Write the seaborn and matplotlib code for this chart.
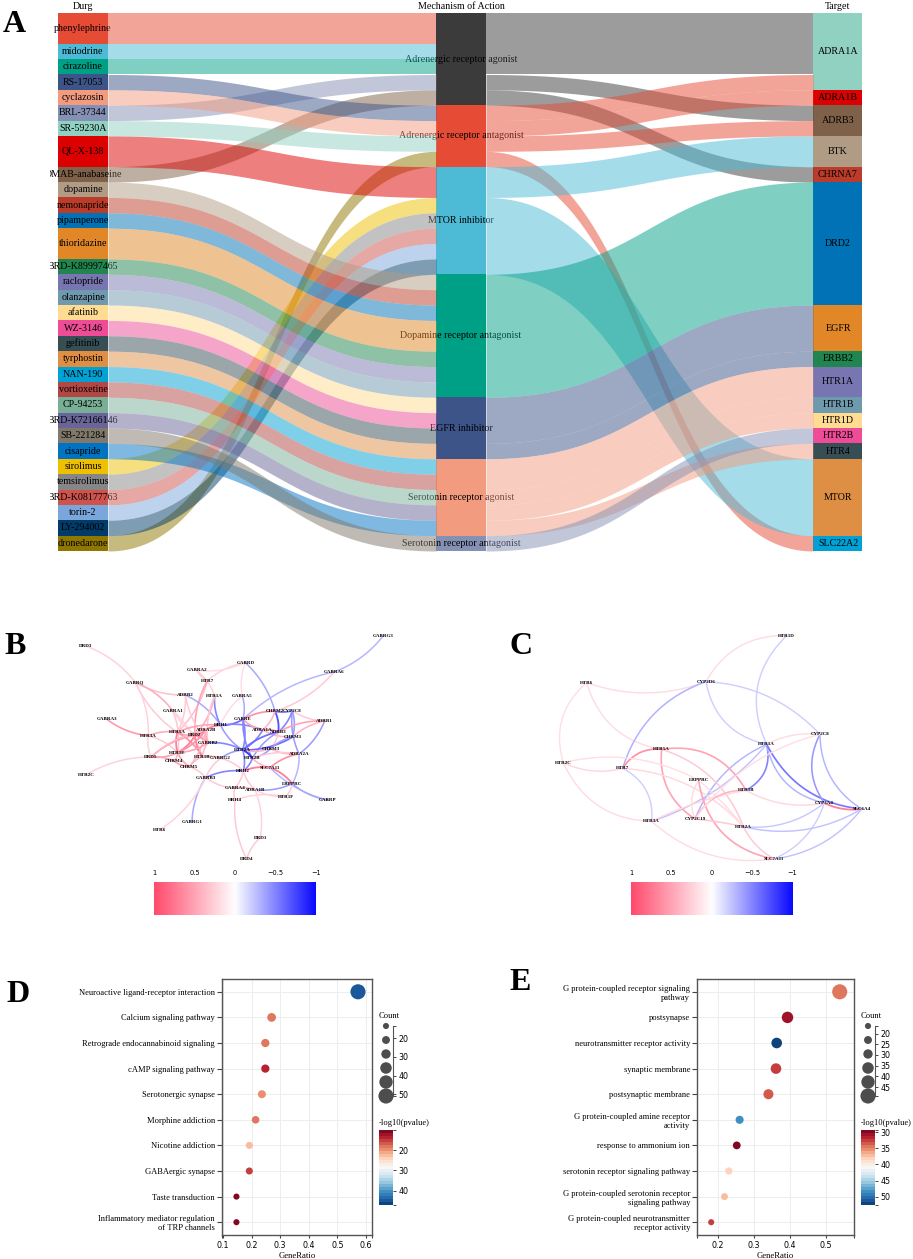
import numpy as np
import pandas as pd
import matplotlib
matplotlib.use('Agg')
import matplotlib.pyplot as plt
import seaborn as sns
from matplotlib.cm import ScalarMappable
from matplotlib.colors import LinearSegmentedColormap, ListedColormap, Normalize
from matplotlib.patches import Rectangle

# ---- panel A data
drug_names = ['phenylephrine', 'midodrine', 'cirazoline', 'RS-17053', 'cyclazosin', 'BRL-37344', 'SR-59230A',
              'QL-X-138', 'DMAB-anabaseine', 'dopamine', 'nemonapride', 'pipamperone', 'thioridazine',
              'BRD-K89997465', 'raclopride', 'olanzapine', 'afatinib', 'WZ-3146', 'gefitinib', 'tyrphostin',
              'NAN-190', 'vortioxetine', 'CP-94253', 'BRD-K72166146', 'SB-221284', 'cisapride', 'sirolimus',
              'temsirolimus', 'BRD-K08177763', 'torin-2', 'LY-294002', 'dronedarone']
drug_units = [2, 1, 1, 1, 1, 1, 1, 2, 1, 1, 1, 1, 2, 1, 1, 1, 1, 1, 1, 1, 1, 1, 1, 1, 1, 1, 1, 1, 1, 1, 1, 1]
drug_colors = ['#E64B35', '#4DBBD5', '#00A087', '#3C5488', '#F39B7F', '#8491B4', '#91D1C2', '#DC0000', '#7E6148',
               '#B09C85', '#BC3C29', '#0072B5', '#E18727', '#20854E', '#7876B1', '#6F99AD', '#FFDC91', '#EE4C97',
               '#374E55', '#DF8F44', '#00A1D5', '#B24745', '#79AF97', '#6A6599', '#80796B', '#0073C2', '#EFC000',
               '#868686', '#CD534C', '#7AA6DC', '#003C67', '#8F7700']
mech_names = ['Adrenergic receptor agonist', 'Adrenergic receptor antagonist', 'MTOR inhibitor',
              'Dopamine receptor antagonist', 'EGFR inhibitor', 'Serotonin receptor agonist',
              'Serotonin receptor antagonist']
mech_colors = ['#3B3B3B', '#E64B35', '#4DBBD5', '#00A087', '#3C5488', '#F39B7F', '#8491B4']
mech_members = [
    ['phenylephrine', 'midodrine', 'cirazoline', 'BRL-37344', 'DMAB-anabaseine'],
    ['RS-17053', 'cyclazosin', 'SR-59230A', 'dronedarone'],
    ['QL-X-138', 'sirolimus', 'temsirolimus', 'BRD-K08177763', 'torin-2', 'LY-294002'],
    ['dopamine', 'nemonapride', 'pipamperone', 'thioridazine', 'BRD-K89997465', 'raclopride', 'olanzapine'],
    ['afatinib', 'WZ-3146', 'gefitinib', 'tyrphostin'],
    ['NAN-190', 'vortioxetine', 'CP-94253', 'BRD-K72166146', 'cisapride'],
    ['SB-221284'],
]
target_names = ['ADRA1A', 'ADRA1B', 'ADRB3', 'BTK', 'CHRNA7', 'DRD2', 'EGFR', 'ERBB2', 'HTR1A', 'HTR1B', 'HTR1D',
                'HTR2B', 'HTR4', 'MTOR', 'SLC22A2']
target_units = [5, 1, 2, 2, 1, 8, 3, 1, 2, 1, 1, 1, 1, 5, 1]
target_colors = ['#91D1C2', '#DC0000', '#7E6148', '#B09C85', '#BC3C29', '#0072B5', '#E18727', '#20854E', '#7876B1',
                 '#6F99AD', '#FFDC91', '#EE4C97', '#374E55', '#DF8F44', '#00A1D5']
flow_mech = [0, 0, 0, 1, 1, 1, 1, 2, 2, 3, 4, 4, 5, 5, 5, 5, 6]
flow_target = ['ADRA1A', 'ADRB3', 'CHRNA7', 'ADRA1A', 'ADRA1B', 'ADRB3', 'SLC22A2', 'BTK', 'MTOR', 'DRD2', 'EGFR',
               'ERBB2', 'HTR1A', 'HTR1B', 'HTR1D', 'HTR4', 'HTR2B']
flow_units = [4, 1, 1, 1, 1, 1, 1, 2, 5, 8, 3, 1, 2, 1, 1, 1, 1]

# ---- panel B network
b_nodes = ['DRD3', 'GABRQ', 'GABRA2', 'GABRD', 'GABRG3', 'GABRA6', 'HTR7', 'ADRB2', 'HTR1A', 'GABRA5', 'GABRA1',
           'GABRA3', 'HTR3A', 'HTR5A', 'DRD2', 'ADRA2B', 'HRH1', 'GABRE', 'CHRM2', 'CYP2C8', 'ADRB1', 'ADRA1A',
           'ADRB3', 'CHRM1', 'GABRB2', 'HTR2A', 'CHRM3', 'ADRA2A', 'HTR1E', 'HTR1B', 'GABRG2', 'HTR2B', 'DRD5',
           'CHRM4', 'CHRM5', 'SLC7A11', 'HRH2', 'GABRB3', 'LRPPRC', 'GABRA4', 'ADRA1B', 'HTR1F', 'GABRP', 'HRH4',
           'GABRG1', 'HTR6', 'HTR2C', 'DRD4', 'DRD1']
b_node_x = [78, 226, 410, 556, 970, 822, 442, 376, 464, 547, 338, 141, 265, 352, 405, 437, 482, 549, 645, 697, 794,
            608, 655, 698, 444, 548, 632, 717, 353, 427, 482, 577, 273, 343, 388, 630, 550, 437, 697, 524, 585, 677,
            803, 525, 396, 300, 78, 560, 601]
b_node_y = [78, 187, 151, 128, 47, 156, 182, 225, 227, 228, 272, 298, 347, 337, 346, 330, 316, 298, 274, 272, 303,
            330, 336, 351, 368, 390, 386, 402, 398, 410, 415, 415, 411, 424, 440, 443, 453, 473, 491, 505, 509, 530,
            540, 540, 606, 629, 465, 717, 653]
b_edges = [('DRD3', 'GABRQ', .25), ('GABRQ', 'ADRB2', .35), ('GABRQ', 'GABRA1', .45), ('GABRQ', 'HTR5A', .3),
           ('GABRQ', 'HTR3A', .25), ('GABRA2', 'HTR7', .3), ('GABRA2', 'HTR1A', .25), ('GABRD', 'HTR7', .25),
           ('GABRD', 'GABRA2', .2), ('GABRD', 'GABRA5', .2), ('GABRD', 'CHRM2', -.35), ('GABRA6', 'GABRG3', -.3),
           ('GABRA6', 'CHRM2', .3), ('GABRA6', 'GABRE', -.3), ('HTR7', 'HTR5A', .35), ('HTR7', 'DRD2', .5),
           ('ADRB2', 'HRH1', -.35), ('ADRB2', 'GABRB2', .3), ('ADRB2', 'HTR5A', .3), ('HTR1A', 'HRH1', -.5),
           ('HTR1A', 'DRD2', .45), ('HTR1A', 'GABRB2', .3), ('GABRA5', 'GABRE', -.35), ('GABRA5', 'HRH1', .2),
           ('GABRA1', 'HTR1E', .3), ('GABRA1', 'GABRB2', .25), ('GABRA1', 'HTR1B', .25), ('GABRA3', 'HTR3A', .55),
           ('HTR3A', 'HTR5A', .45), ('HTR3A', 'DRD5', .25), ('HTR3A', 'HTR1E', .3), ('HTR5A', 'DRD2', .5),
           ('HTR5A', 'HRH1', .5), ('HTR5A', 'HTR1E', .7), ('HTR5A', 'HTR1B', .6), ('DRD2', 'ADRA2B', .7),
           ('DRD2', 'HTR1E', .7), ('DRD2', 'HTR1B', .7), ('DRD2', 'GABRB2', .6), ('DRD2', 'DRD5', .5),
           ('ADRA2B', 'HRH1', .7), ('ADRA2B', 'GABRB2', .5), ('ADRA2B', 'HTR1E', .6), ('ADRA2B', 'DRD5', .4),
           ('ADRA2B', 'CHRM5', .4), ('HRH1', 'GABRE', -.6), ('HRH1', 'ADRA1A', -.5), ('HRH1', 'HTR2A', -.4),
           ('GABRE', 'CHRM2', .6), ('GABRE', 'ADRA1A', .5), ('GABRE', 'HTR2A', -.5), ('GABRE', 'HTR2B', -.5),
           ('CHRM2', 'ADRB3', -.7), ('CHRM2', 'CYP2C8', -.5), ('CHRM2', 'ADRA1A', .4), ('CYP2C8', 'ADRB1', .3),
           ('CYP2C8', 'CHRM1', -.4), ('CYP2C8', 'ADRA2A', -.4), ('CYP2C8', 'ADRB3', -.5), ('ADRB1', 'ADRB3', .5),
           ('ADRB1', 'ADRA2A', -.4), ('ADRB1', 'CHRM1', .4), ('ADRA1A', 'ADRB3', .6), ('ADRA1A', 'CHRM1', .4),
           ('ADRA1A', 'HTR2A', -.5), ('ADRB3', 'HTR2A', -.6), ('ADRB3', 'CHRM3', .3), ('ADRB3', 'HTR2B', -.4),
           ('CHRM1', 'HTR2A', -.6), ('CHRM1', 'CHRM3', -.4), ('GABRB2', 'HTR2A', -.5), ('GABRB2', 'HTR1B', .4),
           ('GABRB2', 'HTR1E', .5), ('HTR2A', 'CHRM3', .4), ('HTR2A', 'HTR2B', -.8), ('HTR2A', 'GABRG2', -.4),
           ('HTR2A', 'HRH2', -.5), ('CHRM3', 'ADRA2A', .4), ('CHRM3', 'HTR2B', -.4), ('ADRA2A', 'SLC7A11', .6),
           ('ADRA2A', 'LRPPRC', -.3), ('ADRA2A', 'HTR2B', .3), ('HTR1E', 'DRD5', .5), ('HTR1E', 'CHRM5', .5),
           ('HTR1E', 'CHRM4', .4), ('HTR1B', 'CHRM5', .4), ('HTR1B', 'GABRG2', .4), ('DRD5', 'HTR2C', .25),
           ('DRD5', 'CHRM4', .5), ('CHRM4', 'CHRM5', .5), ('CHRM5', 'GABRB3', .3), ('GABRG2', 'GABRB3', .3),
           ('GABRG2', 'HRH2', .3), ('HTR2B', 'SLC7A11', .4), ('HTR2B', 'HRH2', -.5), ('SLC7A11', 'HRH2', .7),
           ('SLC7A11', 'LRPPRC', .7), ('SLC7A11', 'GABRP', -.3), ('GABRB3', 'HRH2', -.5), ('GABRB3', 'GABRG1', -.35),
           ('GABRB3', 'HTR6', .25), ('GABRB3', 'GABRA4', .3), ('HRH2', 'GABRA4', .3), ('HRH2', 'ADRA1B', .3),
           ('LRPPRC', 'ADRA1B', -.4), ('LRPPRC', 'GABRP', -.35), ('LRPPRC', 'HTR1F', .3), ('GABRA4', 'HRH4', .3),
           ('GABRA4', 'ADRA1B', .4), ('HRH4', 'DRD4', .3), ('HTR1F', 'ADRA1B', .25), ('HTR1F', 'HRH4', .25),
           ('ADRA1B', 'DRD1', .25), ('DRD1', 'DRD4', .3)]

# ---- panel C network
c_nodes = ['HTR1D', 'CYP2D6', 'HTR6', 'CYP2C8', 'HTR1A', 'HTR5A', 'HTR2C', 'HTR7', 'LRPPRC', 'HTR1B', 'CYP3A4',
           'SLC6A4', 'CYP2C19', 'HTR3A', 'HTR2A', 'SLC7A11']
c_node_x = [680, 438, 80, 780, 620, 305, 10, 188, 416, 558, 793, 905, 405, 275, 550, 642]
c_node_y = [47, 185, 188, 343, 373, 388, 428, 445, 481, 511, 549, 567, 597, 604, 620, 717]
c_edges = [('HTR1D', 'CYP2D6', .2, -.3), ('HTR1D', 'HTR1A', -.2, -.35), ('HTR6', 'CYP2D6', .2, -.18),
           ('HTR6', 'HTR2C', .18, -.32), ('HTR6', 'HTR5A', .2, -.31), ('CYP2D6', 'HTR7', -.32, -.25),
           ('CYP2D6', 'HTR1A', -.2, -.33), ('CYP2D6', 'CYP2C8', -.2, .2), ('HTR1A', 'CYP2C8', .2, .15),
           ('HTR1A', 'HTR1B', -.5, .37), ('HTR1A', 'CYP3A4', -.3, -.32), ('HTR1A', 'SLC6A4', -.55, -.27),
           ('HTR1A', 'CYP2C19', -.3, -.2), ('HTR1A', 'HTR3A', -.25, .14), ('HTR5A', 'HTR7', .6, -.3),
           ('HTR5A', 'HTR1B', .5, .34), ('HTR5A', 'HTR2A', .3, .24), ('HTR5A', 'CYP2C19', .5, -.3),
           ('HTR2C', 'LRPPRC', .18, .19), ('HTR2C', 'HTR7', .22, -.18), ('HTR2C', 'HTR3A', .2, -.31),
           ('HTR7', 'HTR2A', .22, .2), ('HTR7', 'HTR3A', -.2, .33), ('HTR3A', 'HTR1B', .22, .07),
           ('HTR3A', 'SLC7A11', .2, -.23), ('LRPPRC', 'CYP2C19', .2, -.26), ('LRPPRC', 'SLC7A11', .5, -.35),
           ('LRPPRC', 'HTR2A', .2, .05), ('HTR1B', 'CYP2C19', .4, -.3), ('HTR1B', 'CYP3A4', .22, -.18),
           ('CYP2C19', 'HTR2A', .3, .03), ('CYP2C8', 'CYP3A4', -.42, -.3), ('CYP2C8', 'SLC6A4', -.3, -.27),
           ('CYP2C8', 'CYP2C19', .18, -.18), ('CYP3A4', 'SLC6A4', .7, -.15), ('CYP3A4', 'HTR2A', -.22, .2),
           ('CYP3A4', 'SLC7A11', -.2, .22), ('SLC6A4', 'HTR2A', -.25, .2), ('SLC6A4', 'SLC7A11', -.25, .2),
           ('HTR2A', 'SLC7A11', .3, -.15)]
corr_ticks = [1, 0.5, 0, -0.5, -1]
corr_tick_labels = ['1', '0.5', '0', '\u22120.5', '\u22121']

# ---- panels D and E
d_terms = ['Neuroactive ligand-receptor interaction', 'Calcium signaling pathway',
           'Retrograde endocannabinoid signaling', 'cAMP signaling pathway', 'Serotonergic synapse',
           'Morphine addiction', 'Nicotine addiction', 'GABAergic synapse', 'Taste transduction',
           'Inflammatory mediator regulation\nof TRP channels']
d_ratio = [0.572, 0.270, 0.248, 0.248, 0.236, 0.214, 0.192, 0.192, 0.147, 0.147]
d_count = [51, 24, 22, 22, 21, 19, 17, 17, 13, 13]
d_logp = [44, 18.3, 18.3, 13.5, 19.4, 18, 23, 15.7, 10.5, 10.5]
e_terms = ['G protein-coupled receptor signaling\npathway', 'postsynapse', 'neurotransmitter receptor activity',
           'synaptic membrane', 'postsynaptic membrane', 'G protein-coupled amine receptor\nactivity',
           'response to ammonium ion', 'serotonin receptor signaling pathway',
           'G protein-coupled serotonin receptor\nsignaling pathway',
           'G protein-coupled neurotransmitter\nreceptor activity']
e_ratio = [0.539, 0.394, 0.364, 0.362, 0.341, 0.261, 0.253, 0.231, 0.219, 0.182]
e_count = [49, 36, 33, 33, 31, 24, 23, 21, 20, 17]
e_logp = [34.4, 31, 52.4, 32.6, 33.7, 48.6, 29.5, 38.2, 37.5, 32.3]

W, H = 913, 1259
sns.set_style('white')
plt.rcParams['font.family'] = ['Liberation Serif', 'DejaVu Sans']
plt.rcParams['text.color'] = 'black'
plt.rcParams['axes.labelcolor'] = 'black'
plt.rcParams['xtick.color'] = 'black'
plt.rcParams['ytick.color'] = 'black'
fig = plt.figure(figsize=(W / 100, H / 100), dpi=100)


def px_axes(left, top, right, bottom):
    return fig.add_axes([left / W, 1 - bottom / H, (right - left) / W, (bottom - top) / H])


# ---- A: sankey
ax = px_axes(58, 13, 862, 551)
ax.set_xlim(0, 804)
ax.set_ylim(35, 0)
ax.axis('off')
col_x = [0, 378, 755]
node_w = 50
label_clip = Rectangle((50 / W, 0), 1, 1, transform=fig.transFigure)


def draw_nodes(names, units, colors, x0):
    tops = {}
    y = 0
    for name, u, c in zip(names, units, colors):
        ax.add_patch(Rectangle((x0, y), node_w, u, color=c, lw=0, zorder=1))
        t = ax.text(x0 + node_w / 2, y + u / 2, name, ha='center', va='center', fontsize=7.2, zorder=2)
        t.set_clip_path(label_clip)
        t.set_clip_on(True)
        tops[name] = y
        y += u
    return tops


def draw_link(x0, x1, y0, y1, u, color):
    t = np.linspace(0, 1, 80)
    xm = (x0 + x1) / 2
    xs = (1 - t) ** 3 * x0 + 3 * (1 - t) ** 2 * t * xm + 3 * (1 - t) * t ** 2 * xm + t ** 3 * x1
    ys = (1 - t) ** 3 * y0 + 3 * (1 - t) ** 2 * t * y0 + 3 * (1 - t) * t ** 2 * y1 + t ** 3 * y1
    ax.fill_between(xs, ys, ys + u, color=color, alpha=0.5, lw=0, zorder=3)


unit_of = dict(zip(drug_names, drug_units))
color_of = dict(zip(drug_names, drug_colors))
mech_units = [sum(unit_of[d] for d in m) for m in mech_members]
drug_top = draw_nodes(drug_names, drug_units, drug_colors, col_x[0])
mech_top = draw_nodes(mech_names, mech_units, mech_colors, col_x[1])
target_top = draw_nodes(target_names, target_units, target_colors, col_x[2])

for name, members in zip(mech_names, mech_members):
    y = mech_top[name]
    for d in members:
        draw_link(col_x[0] + node_w, col_x[1], drug_top[d], y, unit_of[d], color_of[d])
        y += unit_of[d]

mech_next = dict(mech_top)
target_next = dict(target_top)
for m, tg, u in zip(flow_mech, flow_target, flow_units):
    name = mech_names[m]
    draw_link(col_x[1] + node_w, col_x[2], mech_next[name], target_next[tg], u, mech_colors[m])
    mech_next[name] += u
    target_next[tg] += u

for x0, title in zip(col_x, ['Durg', 'Mechanism of Action', 'Target']):
    ax.text(x0 + node_w / 2, -0.45, title, ha='center', va='center', fontsize=7.2)

# ---- B, C: correlation networks
corr_cmap = LinearSegmentedColormap.from_list('corr', ['#0A0AFF', '#FFFFFF', '#FF4A6C'])


def draw_network(ax, nodes, node_x, node_y, edges):
    pos = {n: (x, y) for n, x, y in zip(nodes, node_x, node_y)}
    for i, edge in enumerate(edges):
        a, b, r = edge[:3]
        rad = edge[3] if len(edge) > 3 else (0.14 if i % 2 == 0 else -0.14)
        p0, p1 = np.array(pos[a], float), np.array(pos[b], float)
        ctrl = (p0 + p1) / 2 + rad * np.array([p1[1] - p0[1], p0[0] - p1[0]])
        t = np.linspace(0, 1, 40)[:, None]
        pts = (1 - t) ** 2 * p0 + 2 * (1 - t) * t * ctrl + t ** 2 * p1
        ax.plot(pts[:, 0], pts[:, 1], color=corr_cmap((r + 1) / 2), lw=0.9 + 0.6 * abs(r), zorder=1,
                solid_capstyle='round')
    for n, (x, y) in pos.items():
        ax.text(x, y, n, ha='center', va='center', fontsize=3.6, fontweight='bold', zorder=2)


def corr_bar(left):
    cax = px_axes(left, 882, left + 161.5, 915)
    cax.imshow(np.linspace(1, -1, 128)[None, :], cmap=corr_cmap, vmin=-1, vmax=1, aspect='auto',
               extent=[1, -1, 0, 1])
    cax.set_yticks([])
    cax.xaxis.tick_top()
    cax.set_xticks(corr_ticks)
    cax.set_xticklabels(corr_tick_labels, family='DejaVu Sans', fontsize=4.8)
    cax.tick_params(top=False, pad=0.5)
    for s in cax.spines.values():
        s.set_visible(False)


ax_b = px_axes(60, 620, 400, 920)
ax_b.set_xlim(0, 1020)
ax_b.set_ylim(900, 0)
ax_b.axis('off')
draw_network(ax_b, b_nodes, b_node_x, b_node_y, b_edges)
corr_bar(154.3)

ax_c = px_axes(540, 620, 880, 920)
ax_c.set_xlim(-60, 960)
ax_c.set_ylim(900, 0)
ax_c.axis('off')
draw_network(ax_c, c_nodes, c_node_x, c_node_y, c_edges)
corr_bar(631)

# ---- D, E: enrichment dot plots
rdbu = ListedColormap(sns.color_palette('RdBu', 25))


def dot_size(count, lo, hi):
    d = 17 + (count - lo) * 25 / (hi - lo)
    return (1.08 * d / 3 * 0.72) ** 2


def dot_panel(frame, terms, ratio, count, logp, xlim, xticks, count_lim, count_ticks, logp_lim, logp_ticks):
    left, right = frame
    ax = px_axes(left, 979, right, 1235)
    lo, hi = min(count), max(count)
    df = pd.DataFrame({'term': terms, 'ratio': ratio, 'count': count, 'logp': logp})
    sns.scatterplot(data=df, x='ratio', y='term', hue='logp', size='count', palette=rdbu,
                    hue_norm=Normalize(*logp_lim), sizes={c: dot_size(c, lo, hi) for c in set(count)},
                    linewidth=0, legend=False, ax=ax, zorder=3, clip_on=False)
    ax.set_xlim(*xlim)
    ax.set_ylim(9.5, -0.5)
    ax.set_xticks(xticks)
    ax.set_xticks(list(xlim), minor=True)
    ax.set_xticklabels([f'{v:.1f}' for v in xticks], family='DejaVu Sans', fontsize=5.7)
    ax.set_xlabel('GeneRatio', fontsize=6.2, labelpad=1.5)
    ax.set_ylabel('')
    ax.tick_params(axis='y', labelsize=6.1, length=3.5, width=0.8, color='#444444', left=True, pad=1.5)
    ax.tick_params(axis='x', which='both', length=2.5, width=0.8, color='#444444', bottom=True, pad=1.5)
    ax.grid(True, color='#EDEDED', lw=0.7)
    ax.set_axisbelow(True)
    for s in ax.spines.values():
        s.set_visible(True)
        s.set_color('#555555')
        s.set_linewidth(1.0)

    # size legend with a bracket axis
    leg = px_axes(right + 3, 1026, right + 21, 1096)
    leg.set_xlim(0, 18)
    leg.set_ylim(count_lim[1], count_lim[0])
    leg_counts = np.linspace(count_lim[0], count_lim[1], 6)
    leg_sizes = [(1.08 * d / 3 * 0.72) ** 2 for d in [17, 22, 26, 32, 37, 42]]
    leg.scatter([11] * 6, leg_counts, s=leg_sizes, color='#4D4D4D', lw=0, clip_on=False, zorder=3)
    leg.yaxis.tick_right()
    leg.set_xticks([])
    all_ticks = [count_lim[0]] + count_ticks + [count_lim[1]]
    leg.set_yticks(all_ticks)
    leg.set_yticklabels([''] + [str(c) for c in count_ticks] + [''], family='DejaVu Sans', fontsize=5.7)
    leg.tick_params(axis='y', right=True, length=2.5, width=0.7, color='#444444', pad=1.5)
    for k, s in leg.spines.items():
        s.set_visible(k == 'right')
        s.set_color('#555555')
    leg.patch.set_alpha(0)
    fig.text((right + 7) / W, 1 - 1016 / H, 'Count', fontsize=6.1, va='center')

    # discrete p-value bar
    cax = px_axes(right + 7, 1130, right + 21, 1205)
    cb = fig.colorbar(ScalarMappable(norm=Normalize(*logp_lim), cmap=rdbu), cax=cax)
    cax.invert_yaxis()
    cb.set_ticks([logp_lim[0]] + logp_ticks + [logp_lim[1]])
    cb.set_ticklabels([''] + [str(v) for v in logp_ticks] + [''], family='DejaVu Sans', fontsize=5.7)
    cb.ax.tick_params(length=2.5, width=0.7, color='#444444', pad=1.5)
    cb.outline.set_visible(False)
    fig.text((right + 7) / W, 1 - 1123 / H, '-log10(pvalue)', fontsize=6.1, va='center')


dot_panel((222, 372), d_terms, d_ratio, d_count, d_logp, (0.0965, 0.621), [0.1, 0.2, 0.3, 0.4, 0.5, 0.6],
          (13.4, 51), [20, 30, 40, 50], (10.2, 46.9), [20, 30, 40])
dot_panel((697, 854), e_terms, e_ratio, e_count, e_logp, (0.1426, 0.5787), [0.2, 0.3, 0.4, 0.5],
          (16.45, 49.2), [20, 25, 30, 35, 40, 45], (29.3, 52.6), [30, 35, 40, 45, 50])

# ---- panel letters
for letter, x, y in [('A', 14, 25), ('B', 15, 646), ('C', 521, 646), ('D', 18, 995), ('E', 520, 983)]:
    fig.text(x / W, 1 - y / H, letter, fontsize=23, fontweight='bold', ha='center', va='center')

plt.savefig('out.png', dpi=100)
